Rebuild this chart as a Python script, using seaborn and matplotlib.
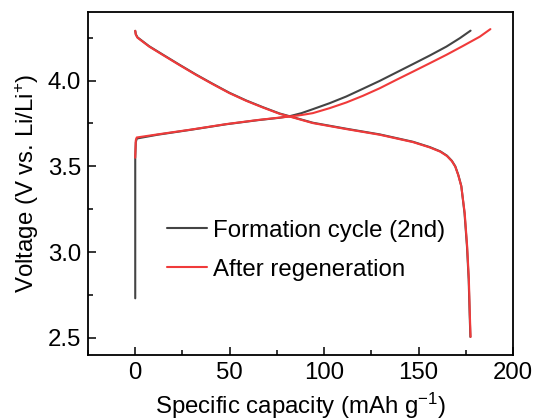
import matplotlib
matplotlib.use("Agg")
import matplotlib.pyplot as plt
from matplotlib.ticker import MultipleLocator
import seaborn as sns
import pandas as pd

# Formation cycle (2nd): charge and discharge branches
form_charge_cap = [0, 0, 0.3, 0.8, 11.8, 29.5, 48.1, 64.9, 76.4, 81.7, 88, 94, 102.9, 111.7, 120.5,
                   129.4, 138.2, 147, 155.9, 164.7, 171.8, 177.5]
form_charge_v = [2.73, 3.55, 3.64, 3.662, 3.684, 3.713, 3.745, 3.769, 3.783, 3.792, 3.81, 3.833, 3.868,
                 3.907, 3.952, 3.998, 4.047, 4.096, 4.146, 4.198, 4.247, 4.291]
form_dis_cap = [0, 0.3, 1.2, 7.4, 14.5, 23.3, 32.2, 41, 49.8, 58.7, 67.5, 76.4, 81.7, 94, 111.7, 129.4,
                147, 155.9, 161.5, 165, 167.6, 169.4, 171, 172.6, 174.3, 175.6, 176.5, 177.0, 177.4]
form_dis_v = [4.29, 4.27, 4.252, 4.2, 4.152, 4.093, 4.035, 3.981, 3.929, 3.884, 3.845, 3.808, 3.792,
              3.754, 3.719, 3.686, 3.643, 3.612, 3.587, 3.562, 3.532, 3.5, 3.45, 3.385, 3.227, 3.033,
              2.84, 2.645, 2.505]

# After regeneration: charge and discharge branches
regen_charge_cap = [0, 0.3, 0.8, 11.8, 29.5, 48.1, 64.9, 76.4, 81.7, 88, 94, 102.9, 111.7, 120.5,
                    129.4, 138.2, 147, 155.9, 164.7, 173.5, 182.4, 188]
regen_charge_v = [3.55, 3.652, 3.668, 3.686, 3.714, 3.746, 3.77, 3.784, 3.79, 3.799, 3.81, 3.839, 3.872,
                  3.911, 3.955, 4.004, 4.052, 4.101, 4.15, 4.202, 4.256, 4.30]
regen_dis_cap = [0, 0.3, 1.2, 7.4, 14.5, 23.3, 32.2, 41, 49.8, 58.7, 67.5, 76.4, 81.7, 94, 111.7, 129.4,
                 147, 155.9, 161.5, 165, 167.6, 169.4, 171, 172.6, 174.4, 175.7, 176.6, 177.1, 177.5]
regen_dis_v = [4.29, 4.268, 4.25, 4.198, 4.15, 4.091, 4.033, 3.979, 3.927, 3.882, 3.843, 3.806, 3.79,
               3.752, 3.717, 3.684, 3.641, 3.61, 3.585, 3.56, 3.53, 3.498, 3.448, 3.383, 3.227, 3.033,
               2.84, 2.645, 2.505]

labels = ["Formation cycle (2nd)", "After regeneration"]
colors = ["#444444", "#f03a3a"]

sns.set_theme(style="white")
plt.rcParams["font.family"] = ["Liberation Sans", "DejaVu Sans"]
plt.rcParams["mathtext.fontset"] = "custom"
plt.rcParams["mathtext.rm"] = "Liberation Sans"
plt.rcParams["mathtext.it"] = "Liberation Sans:italic"
plt.rcParams["text.color"] = "black"
plt.rcParams["axes.labelcolor"] = "black"

fig = plt.figure(figsize=(5.35, 4.2), dpi=100)
ax = fig.add_axes([0.1645, 0.155, 0.7945, 0.8165])

curves = [
    (form_charge_cap, form_charge_v, 0, True),
    (form_dis_cap, form_dis_v, 0, False),
    (regen_charge_cap, regen_charge_v, 1, True),
    (regen_dis_cap, regen_dis_v, 1, False),
]
for cap, v, idx, show in curves:
    df = pd.DataFrame({"cap": cap, "v": v})
    sns.lineplot(data=df, x="cap", y="v", sort=False, estimator=None, ax=ax,
                 color=colors[idx], linewidth=1.5, solid_joinstyle="round",
                 label=labels[idx] if show else None)

ax.set_xlim(-25, 200)
ax.set_ylim(2.4, 4.4)
ax.xaxis.set_major_locator(MultipleLocator(50))
ax.xaxis.set_minor_locator(MultipleLocator(25))
ax.yaxis.set_major_locator(MultipleLocator(0.5))
ax.yaxis.set_minor_locator(MultipleLocator(0.25))
ax.tick_params(which="both", direction="in", bottom=True, left=True, top=False, right=False,
               labelsize=17.3, colors="black", pad=5)
ax.tick_params(which="major", length=6, width=1.1)
ax.tick_params(which="minor", length=3.5, width=1.1)
for s in ax.spines.values():
    s.set_color("black")
    s.set_linewidth(1.3)

ax.set_xlabel(r"Specific capacity (mAh g$^{-1}$)", fontsize=17.3, labelpad=5)
ax.set_ylabel(r"Voltage (V vs. Li/Li$^{+}$)", fontsize=17.3, labelpad=5)

leg = ax.legend(loc="upper left", bbox_to_anchor=(0.134, 0.457), frameon=False, fontsize=17.3,
                handlelength=1.7, handletextpad=0.25, labelspacing=0.7)

fig.savefig("out.png", dpi=100)
